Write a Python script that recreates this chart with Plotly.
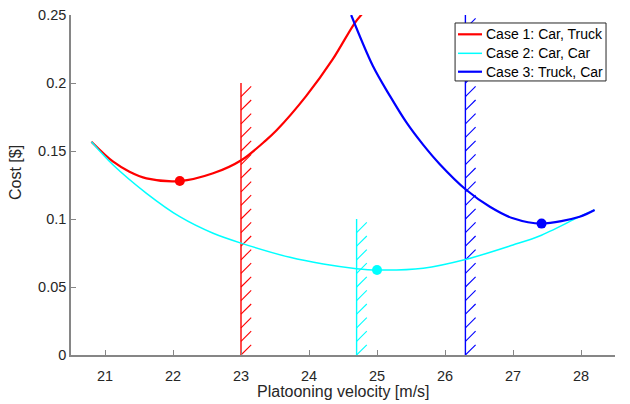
import plotly.graph_objects as go

# ---- data ----
case1_x = [20.80, 21.12, 21.36, 21.61, 22.10, 22.59, 23.01, 23.37, 23.52, 23.96, 24.35, 24.67, 24.79]
case1_y = [0.1568, 0.1421, 0.1348, 0.1299, 0.1279, 0.1336, 0.1434, 0.1580, 0.1650, 0.1905, 0.2175, 0.2439, 0.2513]

case2_x = [20.80, 21.12, 21.61, 22.10, 22.59, 23.01, 23.72, 24.21, 24.70, 25.00, 25.68, 26.30, 27.00, 27.39, 27.98, 28.20]
case2_y = [0.1568, 0.1397, 0.1189, 0.1017, 0.0895, 0.0821, 0.0718, 0.0669, 0.0635, 0.0625, 0.0638, 0.0702, 0.0809, 0.0875, 0.1017, 0.1066]

case3_x = [24.62, 24.94, 25.19, 25.43, 25.68, 25.92, 26.31, 26.66, 27.00, 27.42, 27.98, 28.20]
case3_y = [0.2500, 0.2125, 0.1905, 0.1712, 0.1545, 0.1405, 0.1215, 0.1090, 0.1005, 0.0966, 0.1017, 0.1066]

opt_x = [22.10, 25.00, 27.42]
opt_y = [0.1279, 0.0625, 0.0966]

limit_x = [23.0, 24.7, 26.3]
limit_h = [0.20, 0.10, 0.25]

names = ["Case 1: Car, Truck", "Case 2: Car, Car", "Case 3: Truck, Car"]
colors = ["#ff0000", "#00ffff", "#0000ff"]
widths = [2.2, 1.5, 2.2]

axis_col = "#868686"
text_col = "#262626"

fig = go.Figure()

# hatched limit bars
hatch_dx = 0.15
hatch_dy = 0.0075
hatch_step = 0.01
for xv, h, c in zip(limit_x, limit_h, colors):
    fig.add_trace(go.Scatter(x=[xv, xv], y=[0, h], mode="lines",
                             line=dict(color=c, width=1.4), showlegend=False, hoverinfo="skip"))
    hx, hy = [], []
    n = int(round(h / hatch_step))
    for k in range(n):
        y0 = k * hatch_step
        hx += [xv, xv + hatch_dx, None]
        hy += [y0, y0 + hatch_dy, None]
    fig.add_trace(go.Scatter(x=hx, y=hy, mode="lines",
                             line=dict(color=c, width=1.1), showlegend=False, hoverinfo="skip"))

# cost curves
for xs, ys, nm, c, w in zip([case1_x, case2_x, case3_x], [case1_y, case2_y, case3_y], names, colors, widths):
    fig.add_trace(go.Scatter(x=xs, y=ys, mode="lines", name=nm, showlegend=False,
                             line=dict(color=c, width=w, shape="spline", smoothing=0.9)))

# optimum markers
for xv, yv, c in zip(opt_x, opt_y, colors):
    fig.add_trace(go.Scatter(x=[xv], y=[yv], mode="markers", showlegend=False,
                             marker=dict(color=c, size=10, symbol="circle", line=dict(width=0))))

# compact legend box (MATLAB style), in paper coordinates
leg_x0, leg_x1, leg_y0, leg_y1 = 0.706, 0.9835, 0.806, 0.9765
shapes = [dict(type="rect", xref="paper", yref="paper", x0=leg_x0, x1=leg_x1, y0=leg_y0, y1=leg_y1,
               fillcolor="white", line=dict(color=text_col, width=1), layer="above")]
annotations = []
row_y = [0.9432, 0.8873, 0.8332]
for nm, c, w, ry in zip(names, colors, widths, row_y):
    shapes.append(dict(type="line", xref="paper", yref="paper", x0=0.7114, x1=0.7555, y0=ry, y1=ry,
                       line=dict(color=c, width=w), layer="above"))
    annotations.append(dict(text=nm, xref="paper", yref="paper", x=0.7592, y=ry, xanchor="left",
                            yanchor="middle", showarrow=False, font=dict(size=14, color="black")))

annotations += [
    dict(text="Platooning velocity [m/s]", xref="paper", yref="paper", x=0.5, y=-0.108,
         xanchor="center", yanchor="middle", showarrow=False, font=dict(size=16, color=text_col)),
    dict(text="Cost [$]", xref="paper", yref="paper", x=-0.103, y=0.538, textangle=-90,
         xanchor="center", yanchor="middle", showarrow=False, font=dict(size=16, color=text_col)),
]

fig.update_layout(
    width=622, height=396,
    margin=dict(l=63, r=15, t=7, b=49),
    paper_bgcolor="white", plot_bgcolor="white",
    font=dict(family="Liberation Sans, Arial, sans-serif", size=14, color=text_col),
    showlegend=False,
    xaxis=dict(range=[20.5, 28.5], tickvals=[21, 22, 23, 24, 25, 26, 27, 28],
               showline=True, linecolor=axis_col, linewidth=1.5, mirror=False, automargin=False,
               ticks="inside", ticklen=5, tickcolor=axis_col, showgrid=False, zeroline=False,
               ticklabeloverflow="allow", ticklabelstandoff=7,
               tickfont=dict(size=14.5, color=text_col)),
    yaxis=dict(range=[0, 0.25], tickvals=[0, 0.05, 0.1, 0.15, 0.2, 0.25],
               ticktext=["0", "0.05", "0.1", "0.15", "0.2", "0.25"],
               showline=True, linecolor=axis_col, linewidth=1.5, mirror=False, automargin=False,
               ticks="inside", ticklen=5, tickcolor=axis_col, showgrid=False, zeroline=False,
               ticklabeloverflow="allow",
               tickfont=dict(size=14.5, color=text_col)),
    shapes=shapes,
    annotations=annotations,
)

fig.write_html("out.html")
